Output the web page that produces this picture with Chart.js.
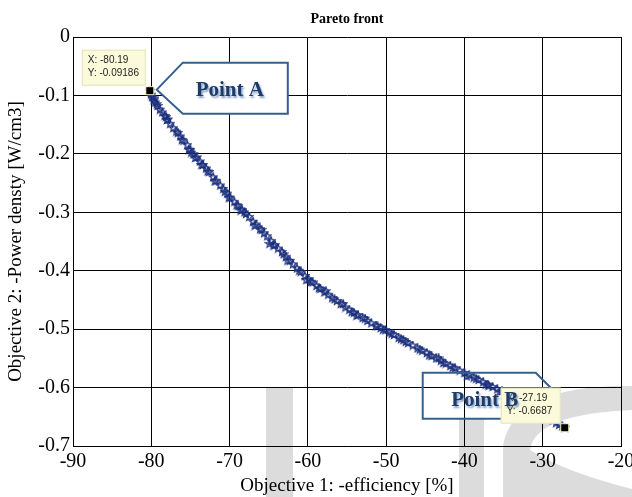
<!DOCTYPE html>
<html>
<head>
<meta charset="utf-8">
<script src="https://cdn.jsdelivr.net/npm/chart.js@4.4.1/dist/chart.umd.min.js"></script>
<style>
  html, body { margin: 0; padding: 0; background: #fff; }
  #wrap { width: 632px; height: 497px; }
</style>
</head>
<body>
<div id="wrap"><canvas id="paretoChart" width="632" height="497"></canvas></div>
<script>
// pareto front samples (objective 1, objective 2)
const xValues = [
  -80.19, -80.05, -79.9, -79.7, -79.5, -79.2, -78.9, -78.6, -78.3, -78.0,
  -77.6, -77.2, -76.8, -76.3, -75.9, -75.4, -75.0, -74.6, -74.2, -73.8,
  -73.4, -73.0, -72.6, -72.1, -71.7, -71.2, -70.8, -70.3, -69.9, -69.4,
  -68.9, -68.4, -67.9, -67.5, -67.0, -66.6, -66.1, -65.6, -65.2, -64.7,
  -64.2, -63.8, -63.3, -62.8, -62.3, -61.9, -61.4, -60.9, -60.4, -59.9,
  -59.4, -58.9, -58.4, -57.9, -57.4, -56.9, -56.3, -55.8, -55.2, -54.7,
  -54.1, -53.6, -53.0, -52.4, -51.9, -51.3, -50.7, -50.1, -49.6, -49.0,
  -48.4, -47.8, -47.2, -46.6, -46.0, -45.4, -44.8, -44.2, -43.6, -43.0,
  -42.4, -41.8, -41.2, -40.6, -40.0, -39.4, -38.8, -38.2, -37.6, -37.0,
  -36.4, -35.8, -35.2, -34.6, -34.0, -33.4, -32.8, -32.2, -31.6, -31.0,
  -30.4, -29.8, -29.2, -28.7, -28.3, -27.9, -27.5, -27.19,
  -79.3, -77.9, -76.1, -74.4, -72.8, -70.6, -68.1, -65.9, -63.1, -61.1,
  -58.6, -56.6, -53.8, -51.1, -48.1, -45.7, -42.7, -39.7, -36.9, -34.3,
  -79.6, -78.1, -76.6, -75.2, -73.6, -71.9, -70.1, -68.6, -66.8, -64.9,
  -62.6, -60.2, -57.7, -55.5, -52.7, -50.4, -47.5, -44.5, -41.5, -38.5,
  -35.5, -74.9, -69.1, -64.4, -59.6, -54.4, -49.3, -43.3, -37.3, -33.7
];
const yValues = [
  -0.0919, -0.0985, -0.1030, -0.1085, -0.1120, -0.1180, -0.1245, -0.1290, -0.1350, -0.1420,
  -0.1485, -0.1560, -0.1620, -0.1700, -0.1775, -0.1850, -0.1930, -0.2010, -0.2060, -0.2130,
  -0.2190, -0.2250, -0.2310, -0.2400, -0.2460, -0.2540, -0.2600, -0.2680, -0.2750, -0.2820,
  -0.2890, -0.2960, -0.3030, -0.3080, -0.3160, -0.3210, -0.3290, -0.3360, -0.3410, -0.3490,
  -0.3560, -0.3620, -0.3680, -0.3760, -0.3830, -0.3890, -0.3960, -0.4020, -0.4090, -0.4150,
  -0.4200, -0.4260, -0.4310, -0.4370, -0.4410, -0.4470, -0.4520, -0.4570, -0.4630, -0.4670,
  -0.4720, -0.4760, -0.4810, -0.4860, -0.4900, -0.4940, -0.4980, -0.5020, -0.5060, -0.5100,
  -0.5150, -0.5190, -0.5240, -0.5280, -0.5330, -0.5370, -0.5410, -0.5460, -0.5500, -0.5540,
  -0.5590, -0.5630, -0.5670, -0.5710, -0.5750, -0.5790, -0.5830, -0.5870, -0.5910, -0.5950,
  -0.5990, -0.6030, -0.6060, -0.6100, -0.6140, -0.6180, -0.6220, -0.6260, -0.6300, -0.6340,
  -0.6380, -0.6420, -0.6480, -0.6560, -0.6610, -0.6640, -0.6665, -0.6687,
  -0.1150, -0.1410, -0.1760, -0.2070, -0.2300, -0.2650, -0.3000, -0.3300, -0.3720, -0.4000,
  -0.4300, -0.4490, -0.4770, -0.4950, -0.5170, -0.5350, -0.5580, -0.5810, -0.5970, -0.6110,
  -0.1050, -0.1370, -0.1640, -0.1930, -0.2190, -0.2470, -0.2750, -0.2970, -0.3230, -0.3540,
  -0.3830, -0.4160, -0.4350, -0.4570, -0.4820, -0.5010, -0.5220, -0.5450, -0.5660, -0.5850,
  -0.6070, -0.1980, -0.2880, -0.3570, -0.4190, -0.4710, -0.5080, -0.5500, -0.5950, -0.6190
];

const xTickValues = [-90, -80, -70, -60, -50, -40, -30, -20];
const xTickLabels = ['-90', '-80', '-70', '-60', '-50', '-40', '-30', '-20'];
const yTickValues = [0, -0.1, -0.2, -0.3, -0.4, -0.5, -0.6, -0.7];
const yTickLabels = ['0', '-0.1', '-0.2', '-0.3', '-0.4', '-0.5', '-0.6', '-0.7'];

// data tips
const tipX = [-80.19, -27.19];
const tipY = [-0.09186, -0.6687];
const tipText = [['X: -80.19', 'Y: -0.09186'], ['X: -27.19', 'Y: -0.6687']];
const calloutText = ['Point A', 'Point B'];

const titleText = 'Pareto front';
const xTitle = 'Objective 1: -efficiency [%]';
const yTitle = 'Objective 2: -Power densty [W/cm3]';

const serif = '"Liberation Serif", "Times New Roman", serif';
const sans = '"Liberation Sans", Arial, sans-serif';
const navy = '#1b2f7e';
const calloutBlue = '#34608f';

function pickLabel(values, labels, v) {
  let best = 0;
  values.forEach((t, i) => { if (Math.abs(t - v) < Math.abs(values[best] - v)) best = i; });
  return labels[best];
}

// outlined pentagram marker, like matlab's 'p'
function makeStar(size, color) {
  const c = document.createElement('canvas');
  c.width = size; c.height = size;
  const g = c.getContext('2d');
  const cx = size / 2, cy = size / 2, R = size / 2 - 0.8, r = R * 0.42;
  g.beginPath();
  for (let i = 0; i < 10; i++) {
    const a = -Math.PI / 2 + i * Math.PI / 5;
    const rad = i % 2 === 0 ? R : r;
    const px = cx + rad * Math.cos(a), py = cy + rad * Math.sin(a);
    if (i === 0) g.moveTo(px, py); else g.lineTo(px, py);
  }
  g.closePath();
  g.strokeStyle = color;
  g.lineWidth = 1.2;
  g.stroke();
  return c;
}

const watermark = {
  id: 'watermark',
  beforeDraw(chart) {
    const ctx = chart.ctx;
    ctx.save();
    ctx.fillStyle = '#fff';
    ctx.fillRect(0, 0, chart.width, chart.height);
    ctx.fillStyle = '#dcdcdc';
    ctx.fillRect(266, 388, 27, 109);
    ctx.fillRect(459, 418, 25, 79);
    ctx.beginPath();
    ctx.moveTo(632, 386);
    ctx.quadraticCurveTo(515, 384, 503, 445);
    ctx.lineTo(503, 497);
    ctx.lineTo(632, 497);
    ctx.lineTo(632, 489);
    ctx.quadraticCurveTo(565, 472, 530, 450);
    ctx.quadraticCurveTo(535, 414, 632, 410);
    ctx.closePath();
    ctx.fill();
    ctx.restore();
  }
};

function drawCallout(ctx, pts, fill) {
  ctx.beginPath();
  pts.forEach((p, i) => { if (i === 0) ctx.moveTo(p[0], p[1]); else ctx.lineTo(p[0], p[1]); });
  ctx.closePath();
  if (fill) { ctx.fillStyle = '#fff'; ctx.fill(); }
  ctx.strokeStyle = calloutBlue;
  ctx.lineWidth = 2;
  ctx.stroke();
}

function drawCalloutText(ctx, text, x, y) {
  ctx.save();
  ctx.font = 'bold 21px ' + serif;
  ctx.textAlign = 'center';
  ctx.textBaseline = 'middle';
  ctx.shadowColor = 'rgba(90,130,190,0.75)';
  ctx.shadowOffsetX = 1.5;
  ctx.shadowOffsetY = 1.5;
  ctx.shadowBlur = 2;
  ctx.fillStyle = '#1e3a66';
  ctx.fillText(text, x, y);
  ctx.restore();
}

function drawTip(ctx, box, lines) {
  ctx.fillStyle = '#fbfbdc';
  ctx.fillRect(box[0], box[1], box[2], box[3]);
  ctx.strokeStyle = '#e3e2bd';
  ctx.lineWidth = 1;
  ctx.strokeRect(box[0] + 0.5, box[1] + 0.5, box[2] - 1, box[3] - 1);
  ctx.fillStyle = '#222';
  ctx.font = '10px ' + sans;
  ctx.textAlign = 'left';
  ctx.textBaseline = 'middle';
  ctx.fillText(lines[0], box[0] + 6, box[1] + 11);
  ctx.fillText(lines[1], box[0] + 6, box[1] + 24);
}

function drawTipMarker(ctx, x, y) {
  ctx.fillStyle = '#f4f1c0';
  ctx.fillRect(x - 4.5, y - 4.5, 9, 9);
  ctx.fillStyle = '#000';
  ctx.fillRect(x - 3.5, y - 3.5, 7, 7);
}

const annotations = {
  id: 'annotations',
  afterDatasetsDraw(chart) {
    const ctx = chart.ctx;
    const xs = chart.scales.x, ys = chart.scales.y, area = chart.chartArea;
    ctx.save();

    // title and y label
    ctx.fillStyle = '#000';
    ctx.font = 'bold 14px ' + serif;
    ctx.textAlign = 'center';
    ctx.textBaseline = 'middle';
    ctx.fillText(titleText, (area.left + area.right) / 2, 19);

    ctx.save();
    ctx.translate(16, (area.top + area.bottom) / 2);
    ctx.rotate(-Math.PI / 2);
    ctx.font = '19px ' + serif;
    ctx.fillText(yTitle, 0, 0);
    ctx.restore();

    // point A
    const ax = xs.getPixelForValue(tipX[0]), ay = ys.getPixelForValue(tipY[0]);
    drawCallout(ctx, [[ax + 7, ay - 1], [ax + 33, ay - 28], [ax + 138, ay - 28], [ax + 138, ay + 23], [ax + 33, ay + 23]], true);
    drawCalloutText(ctx, calloutText[0], ax + 80, ay);
    drawTip(ctx, [ax - 68, ay - 41, 64, 36], tipText[0]);
    drawTipMarker(ctx, ax, ay);

    // point B
    const bx = xs.getPixelForValue(tipX[1]), by = ys.getPixelForValue(tipY[1]);
    drawCallout(ctx, [[bx - 142, by - 55], [bx - 29, by - 55], [bx - 5, by - 31], [bx - 29, by - 9], [bx - 142, by - 9]], false);
    drawTip(ctx, [bx - 64, by - 40, 60, 36], tipText[1]);
    drawCalloutText(ctx, calloutText[1], bx - 80, by - 27);
    drawTipMarker(ctx, bx, by);

    ctx.restore();
  }
};

const points = xValues.map((x, i) => ({ x: x, y: yValues[i] }));
const ctx = document.getElementById('paretoChart').getContext('2d');
const chart = new Chart(ctx, {
  type: 'scatter',
  data: {
    datasets: [{
      label: 'Pareto front',
      data: points,
      pointStyle: makeStar(10, navy),
      pointRadius: 5,
      showLine: false
    }]
  },
  options: {
    responsive: false,
    animation: false,
    layout: { padding: { top: 37, right: 11, left: 0, bottom: 0 } },
    plugins: {
      legend: { display: false },
      tooltip: { enabled: false }
    },
    scales: {
      x: {
        type: 'linear',
        min: -90,
        max: -20,
        afterBuildTicks: (scale) => { scale.ticks = xTickValues.map(v => ({ value: v })); },
        afterFit: (scale) => { scale.height = 51; scale.paddingLeft = 0; scale.paddingRight = 0; },
        ticks: {
          color: '#000',
          font: { family: serif, size: 20 },
          padding: 4,
          maxRotation: 0,
          callback: (v) => pickLabel(xTickValues, xTickLabels, v)
        },
        grid: { color: '#000', lineWidth: 1, drawTicks: false },
        border: { color: '#000', width: 1 },
        title: {
          display: true,
          text: xTitle,
          color: '#000',
          font: { family: serif, size: 19 },
          padding: { top: 0, bottom: 0 }
        }
      },
      y: {
        type: 'linear',
        min: -0.7,
        max: 0,
        afterBuildTicks: (scale) => { scale.ticks = yTickValues.slice().reverse().map(v => ({ value: v })); },
        afterFit: (scale) => { scale.width = 73; scale.paddingTop = 0; scale.paddingBottom = 0; },
        ticks: {
          color: '#000',
          font: { family: serif, size: 20 },
          padding: 3,
          callback: (v) => pickLabel(yTickValues, yTickLabels, v)
        },
        grid: { color: '#000', lineWidth: 1, drawTicks: false },
        border: { color: '#000', width: 1 }
      }
    }
  },
  plugins: [watermark, annotations]
});
</script>
</body>
</html>
